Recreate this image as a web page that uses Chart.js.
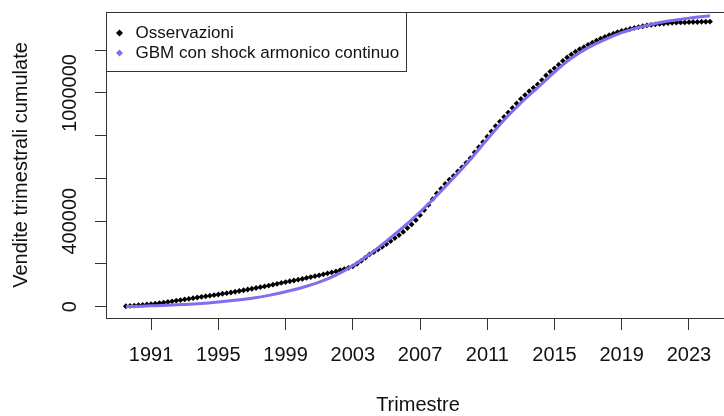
<!DOCTYPE html>
<html>
<head>
<meta charset="utf-8">
<script src="https://cdn.jsdelivr.net/npm/chart.js@4.4.0/dist/chart.umd.min.js"></script>
<style>
  html, body { margin: 0; padding: 0; background: #fff; overflow: hidden; }
  canvas { display: block; }
</style>
</head>
<body>
<canvas id="chart" width="740" height="416"></canvas>
<script>
// quarterly cumulative sales, first observation 1989 Q3
const obsStart = 1989.5;
const obsValues = [
  2000, 3500,
  5000, 7000, 8500, 10500,
  12000, 14500, 17000, 19500,
  22000, 25000, 28000, 31000,
  34000, 37000, 40000, 43000,
  46000, 49000, 51500, 54500,
  57000, 60500, 63500, 66500,
  70000, 73500, 77000, 80500,
  84000, 87500, 91500, 95000,
  99000, 103000, 107000, 111000,
  115000, 119000, 122500, 126500,
  130000, 134500, 138500, 143000,
  147000, 151500, 156000, 160500,
  165000, 170500, 176000, 182000,
  189000, 201000, 214000, 229000,
  245000, 256000, 268000, 280000,
  293000, 307000, 321000, 335000,
  350000, 368000, 385000, 405000,
  428000, 452000, 476000, 503000,
  530000, 552000, 574000, 594000,
  612000, 633000, 652000, 673000,
  695000, 722000, 746000, 770000,
  795000, 820000, 845000, 866000,
  888000, 908000, 930000, 951000,
  972000, 990000, 1008000, 1024000,
  1040000, 1060000, 1082000, 1100000,
  1115000, 1132000, 1150000, 1166000,
  1180000, 1193000, 1205000, 1214000,
  1225000, 1235000, 1245000, 1254000,
  1262000, 1270000, 1277000, 1284000,
  1290000, 1295000, 1300000, 1304000,
  1308000, 1312000, 1316000, 1318000,
  1321000, 1323000, 1325000, 1327000,
  1328000, 1329000, 1330000, 1330000,
  1331000, 1332000, 1332000, 1333000,
  1333000, 1334000
];

// fitted GBM curve with continuous harmonic shock
const fitYears = [1989.5, 1990, 1991, 1992, 1993, 1994, 1995, 1996, 1997, 1998, 1999,
  2000, 2001, 2002, 2003, 2004, 2005, 2006, 2007, 2008, 2009, 2010, 2011, 2012,
  2013, 2014, 2015, 2016, 2017, 2018, 2019, 2020, 2021, 2022, 2023, 2024, 2024.25];
const fitValues = [0, 1500, 4000, 6500, 10000, 15000, 22000, 30000, 40000, 53000, 70000,
  90000, 115000, 148000, 192000, 245000, 307000, 372000, 443000, 520000, 603000, 690000,
  783000, 873000, 953000, 1025000, 1098000, 1162000, 1212000, 1250000, 1282000, 1306000,
  1325000, 1339000, 1350000, 1359000, 1361000];

const xTicks = [1991, 1995, 1999, 2003, 2007, 2011, 2015, 2019, 2023];
const yTicks = [0, 200000, 400000, 600000, 800000, 1000000, 1200000];
const yLabelled = [0, 400000, 1000000];

const seriesNames = ['Osservazioni', 'GBM con shock armonico continuo'];
const obsColor = '#000000';
const fitColor = '#7f6ef0';
const inkColor = '#111111';
const FONT = "'Liberation Sans', Arial, sans-serif";

const obsPoints = obsValues.map((v, i) => ({ x: obsStart + i / 4, y: v }));
const fitPoints = fitYears.map((t, i) => ({ x: t, y: fitValues[i] }));

function diamond(ctx, x, y, r, color) {
  ctx.beginPath();
  ctx.moveTo(x, y - r);
  ctx.lineTo(x + r, y);
  ctx.lineTo(x, y + r);
  ctx.lineTo(x - r, y);
  ctx.closePath();
  ctx.fillStyle = color;
  ctx.fill();
}

// plot frame, rotated y labels and the boxed legend
const baseDecor = {
  id: 'baseDecor',
  afterDraw(chart) {
    const { ctx, chartArea: a, scales } = chart;
    ctx.save();
    ctx.strokeStyle = '#333';
    ctx.lineWidth = 1;
    ctx.strokeRect(Math.round(a.left) + 0.5, Math.round(a.top) + 0.5,
      Math.round(a.right - a.left), Math.round(a.bottom - a.top));

    ctx.fillStyle = inkColor;
    ctx.font = '20px ' + FONT;
    ctx.textAlign = 'center';
    ctx.textBaseline = 'middle';
    yLabelled.forEach(v => {
      const py = scales.y.getPixelForValue(v);
      ctx.save();
      ctx.translate(70, py);
      ctx.rotate(-Math.PI / 2);
      ctx.fillText(String(v), 0, 0);
      ctx.restore();
    });

    // legend
    const lx = Math.round(a.left) + 0.5, ly = Math.round(a.top) + 0.5;
    ctx.fillStyle = '#fff';
    ctx.fillRect(lx, ly, 300, 59);
    ctx.strokeStyle = '#333';
    ctx.strokeRect(lx, ly, 300, 59);
    ctx.font = '17px ' + FONT;
    ctx.textAlign = 'left';
    const rows = [33, 53];
    [obsColor, fitColor].forEach((c, i) => {
      diamond(ctx, lx + 13, rows[i], 3.5, c);
      ctx.fillStyle = inkColor;
      ctx.fillText(seriesNames[i], lx + 29, rows[i]);
    });
    ctx.restore();
  }
};

new Chart(document.getElementById('chart'), {
  type: 'scatter',
  data: {
    datasets: [
      {
        label: seriesNames[1],
        data: fitPoints,
        type: 'line',
        showLine: true,
        borderColor: fitColor,
        borderWidth: 3,
        pointRadius: 0,
        cubicInterpolationMode: 'monotone',
        fill: false,
        order: 1
      },
      {
        label: seriesNames[0],
        data: obsPoints,
        backgroundColor: obsColor,
        borderColor: obsColor,
        borderWidth: 0,
        pointStyle: 'rectRot',
        pointRadius: 2.9,
        order: 2
      }
    ]
  },
  options: {
    responsive: false,
    animation: false,
    layout: { padding: { top: 12, right: 10, bottom: 0, left: 0 } },
    plugins: { legend: { display: false }, tooltip: { enabled: false } },
    scales: {
      x: {
        type: 'linear',
        min: 1988.32,
        max: 2025.44,
        afterBuildTicks: s => { s.ticks = xTicks.map(v => ({ value: v })); },
        afterFit: s => { s.height = 98; },
        grid: { drawOnChartArea: false, drawTicks: true, tickLength: 12, color: '#333' },
        border: { color: '#333' },
        ticks: {
          color: inkColor,
          font: { family: FONT, size: 20 },
          padding: 13,
          maxRotation: 0,
          autoSkip: false,
          callback: v => String(v)
        },
        title: {
          display: true,
          text: 'Trimestre',
          color: inkColor,
          font: { family: FONT, size: 20, lineHeight: 1 },
          padding: { top: 0, bottom: 1 }
        }
      },
      y: {
        min: -52870,
        max: 1378700,
        afterBuildTicks: s => { s.ticks = yTicks.map(v => ({ value: v })); },
        afterFit: s => { s.width = 106; },
        grid: { drawOnChartArea: false, drawTicks: true, tickLength: 11, color: '#333' },
        border: { color: '#333' },
        ticks: { display: false },
        title: {
          display: true,
          text: 'Vendite trimestrali cumulate',
          color: inkColor,
          font: { family: FONT, size: 20, lineHeight: 1 },
          padding: { top: 11, bottom: 0 }
        }
      }
    }
  },
  plugins: [baseDecor]
});
</script>
</body>
</html>
